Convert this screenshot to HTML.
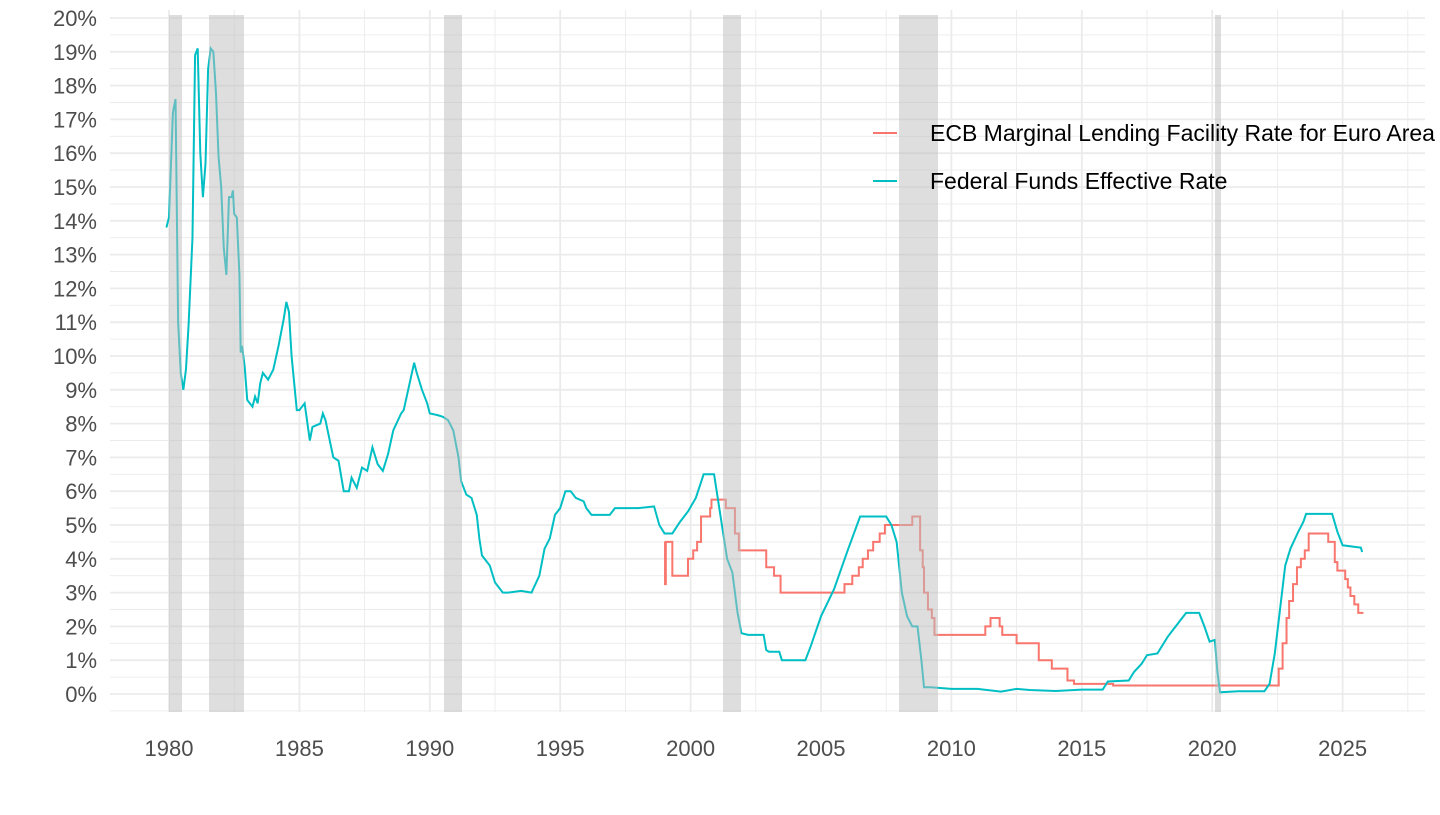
<!DOCTYPE html>
<html><head><meta charset="utf-8"><style>
html,body{margin:0;padding:0;background:#fff;}
svg text{font-family:"Liberation Sans",sans-serif;}
</style></head><body>
<svg id="s" width="1440" height="810" xmlns="http://www.w3.org/2000/svg"></svg>
<script>
const s=document.getElementById('s');
const X=y=>169+(y-1980)*26.08, Y=v=>694-v*33.8;
let h='';
for(let v=-0.5;v<=20;v+=0.5){const y=Y(v);h+=`<line x1="110" x2="1425" y1="${y}" y2="${y}" stroke="#ebebeb" stroke-width="${Number.isInteger(v)?1.8:0.9}"/>`;}
for(let yr=1977.5;yr<=2027.5;yr+=2.5){const x=X(yr);if(x<110||x>1425)continue;h+=`<line x1="${x}" x2="${x}" y1="10" y2="712" stroke="#ebebeb" stroke-width="${yr%5==0?1.8:0.9}"/>`;}
for(let v=0;v<=20;v++)h+=`<text x="97" y="${Y(v)+8}" text-anchor="end" font-size="22" fill="#4d4d4d">${v}%</text>`;
for(let yr=1980;yr<=2025;yr+=5)h+=`<text x="${X(yr)}" y="756" text-anchor="middle" font-size="22" fill="#4d4d4d">${yr}</text>`;
const fed=[[1979.9,13.8],[1980.0,14.1],[1980.15,17.2],[1980.25,17.6],[1980.35,11],[1980.45,9.5],[1980.55,9.0],[1980.65,9.6],[1980.75,10.9],[1980.9,13.5],[1981.0,18.9],[1981.1,19.1],[1981.2,16],[1981.3,14.7],[1981.4,15.7],[1981.5,18.5],[1981.6,19.1],[1981.7,19.0],[1981.8,17.8],[1981.9,15.9],[1982.0,15],[1982.1,13.2],[1982.2,12.4],[1982.3,14.7],[1982.4,14.7],[1982.45,14.9],[1982.5,14.2],[1982.6,14.1],[1982.7,12.4],[1982.75,10.1],[1982.8,10.3],[1982.9,9.7],[1983.0,8.7],[1983.2,8.5],[1983.3,8.8],[1983.4,8.6],[1983.5,9.2],[1983.6,9.5],[1983.8,9.3],[1984.0,9.6],[1984.2,10.3],[1984.4,11.1],[1984.5,11.6],[1984.6,11.3],[1984.7,10.0],[1984.9,8.4],[1985.0,8.4],[1985.2,8.6],[1985.4,7.5],[1985.5,7.9],[1985.8,8.0],[1985.9,8.3],[1986.0,8.1],[1986.3,7.0],[1986.5,6.9],[1986.7,6.0],[1986.9,6.0],[1987.0,6.4],[1987.2,6.1],[1987.4,6.7],[1987.6,6.6],[1987.8,7.3],[1988.0,6.8],[1988.2,6.6],[1988.4,7.1],[1988.6,7.8],[1988.9,8.3],[1989.0,8.4],[1989.2,9.1],[1989.4,9.8],[1989.5,9.5],[1989.7,9.0],[1989.9,8.6],[1990.0,8.3],[1990.3,8.25],[1990.5,8.2],[1990.7,8.1],[1990.9,7.8],[1991.1,7.0],[1991.2,6.3],[1991.4,5.9],[1991.6,5.8],[1991.8,5.3],[1991.9,4.6],[1992.0,4.1],[1992.3,3.8],[1992.5,3.3],[1992.8,3.0],[1993.0,3.0],[1993.5,3.05],[1993.9,3.0],[1994.2,3.5],[1994.4,4.3],[1994.6,4.6],[1994.8,5.3],[1995.0,5.5],[1995.2,6.0],[1995.4,6.0],[1995.6,5.8],[1995.9,5.7],[1996.0,5.5],[1996.2,5.3],[1996.5,5.3],[1996.9,5.3],[1997.1,5.5],[1997.5,5.5],[1998.0,5.5],[1998.6,5.55],[1998.8,5.0],[1999.0,4.75],[1999.3,4.75],[1999.6,5.1],[1999.9,5.4],[2000.2,5.8],[2000.5,6.5],[2000.9,6.5],[2001.0,6.0],[2001.2,5.0],[2001.4,4.0],[2001.6,3.6],[2001.8,2.4],[2001.95,1.8],[2002.2,1.75],[2002.8,1.75],[2002.9,1.3],[2003.0,1.25],[2003.4,1.25],[2003.5,1.0],[2004.0,1.0],[2004.4,1.0],[2004.6,1.4],[2005.0,2.3],[2005.5,3.1],[2006.0,4.2],[2006.5,5.25],[2007.5,5.25],[2007.7,5.0],[2007.9,4.5],[2008.1,3.0],[2008.3,2.3],[2008.5,2.0],[2008.7,2.0],[2008.85,1.0],[2008.95,0.2],[2009.2,0.2],[2010,0.15],[2011,0.15],[2011.9,0.07],[2012.5,0.15],[2013,0.12],[2014,0.09],[2015,0.13],[2015.8,0.13],[2016.0,0.37],[2016.8,0.4],[2017.0,0.65],[2017.3,0.9],[2017.5,1.15],[2017.9,1.2],[2018.3,1.7],[2018.5,1.9],[2018.8,2.2],[2019.0,2.4],[2019.5,2.4],[2019.7,2.0],[2019.9,1.55],[2020.1,1.6],[2020.2,0.65],[2020.3,0.05],[2021,0.08],[2022.0,0.08],[2022.2,0.3],[2022.4,1.2],[2022.6,2.5],[2022.8,3.8],[2023.0,4.3],[2023.3,4.8],[2023.5,5.1],[2023.6,5.33],[2024.6,5.33],[2024.8,4.8],[2025.0,4.4],[2025.7,4.33],[2025.75,4.2]];
const ecb=[[1999.0,4.5],[1999.02,3.25],[1999.05,4.5],[1999.3,3.5],[1999.9,4.0],[2000.1,4.25],[2000.25,4.5],[2000.4,5.25],[2000.75,5.5],[2000.8,5.75],[2001.35,5.5],[2001.7,4.75],[2001.85,4.25],[2002.9,3.75],[2003.2,3.5],[2003.45,3.0],[2005.9,3.25],[2006.2,3.5],[2006.45,3.75],[2006.6,4.0],[2006.8,4.25],[2007.0,4.5],[2007.25,4.75],[2007.45,5.0],[2008.5,5.25],[2008.8,4.25],[2008.9,3.75],[2008.95,3.0],[2009.1,2.5],[2009.25,2.25],[2009.35,1.75],[2011.3,2.0],[2011.5,2.25],[2011.85,2.0],[2011.95,1.75],[2012.5,1.5],[2013.35,1.0],[2013.85,0.75],[2014.45,0.4],[2014.7,0.3],[2016.2,0.25],[2022.55,0.75],[2022.7,1.5],[2022.85,2.25],[2022.95,2.75],[2023.1,3.25],[2023.25,3.75],[2023.4,4.0],[2023.55,4.25],[2023.7,4.75],[2024.45,4.5],[2024.7,3.9],[2024.8,3.65],[2025.1,3.4],[2025.2,3.15],[2025.3,2.9],[2025.45,2.65],[2025.6,2.4],[2025.8,2.4]];
let d='';ecb.forEach((p,i)=>{if(i==0)d+=`M${X(p[0])},${Y(p[1])}`;else d+=`H${X(p[0])}V${Y(p[1])}`;});
h+=`<path d="${d}" fill="none" stroke="#F8766D" stroke-width="2"/>`;
h+=`<path d="M${fed.map(p=>X(p[0])+','+Y(p[1])).join('L')}" fill="none" stroke="#00BFC4" stroke-width="2"/>`;
[[169,182],[209,244],[444,462],[723,741],[899,938],[1215,1221]].forEach(r=>h+=`<rect x="${r[0]}" y="15" width="${r[1]-r[0]}" height="697" fill="#bdbdbd" opacity="0.5"/>`);
h+=`<line x1="873" x2="897" y1="133" y2="133" stroke="#F8766D" stroke-width="2"/><text x="930" y="141" font-size="23" fill="#000">ECB Marginal Lending Facility Rate for Euro Area</text>`;
h+=`<line x1="873" x2="897" y1="181" y2="181" stroke="#00BFC4" stroke-width="2"/><text x="930" y="189" font-size="23" fill="#000">Federal Funds Effective Rate</text>`;
s.innerHTML=h;
</script>
</body></html>
